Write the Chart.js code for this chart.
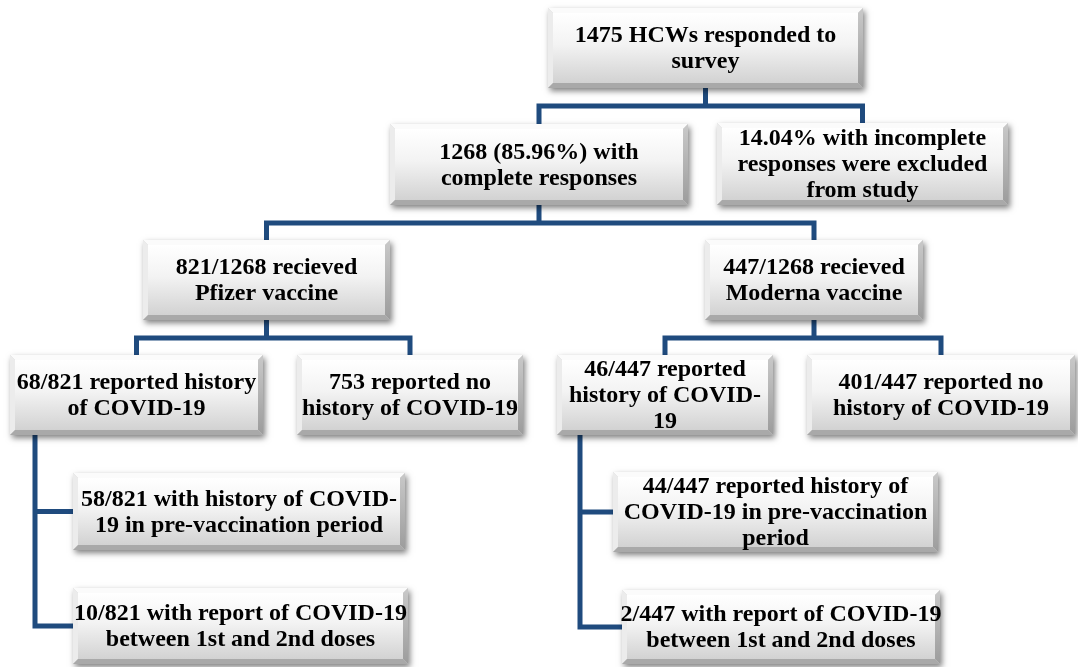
<!DOCTYPE html>
<html>
<head>
<meta charset="utf-8">
<title>HCW vaccination flow</title>
<script src="https://cdn.jsdelivr.net/npm/chart.js@4.4.1/dist/chart.umd.min.js"></script>
<style>
  html, body { margin: 0; padding: 0; background: #fff; }
  #wrap { width: 1078px; height: 667px; }
</style>
</head>
<body>
<div id="wrap"><canvas id="flow" width="1078" height="667"></canvas></div>
<script>
// box labels (the content of the flow chart)
const boxText = [
  ['1475 HCWs responded to', 'survey'],
  ['1268 (85.96%) with', 'complete responses'],
  ['14.04% with incomplete', 'responses were excluded', 'from study'],
  ['821/1268 recieved', 'Pfizer vaccine'],
  ['447/1268 recieved', 'Moderna vaccine'],
  ['68/821 reported history', 'of COVID-19'],
  ['753 reported no', 'history of COVID-19'],
  ['46/447 reported', 'history of COVID-', '19'],
  ['401/447 reported no', 'history of COVID-19'],
  ['58/821 with history of COVID-', '19 in pre-vaccination period'],
  ['10/821 with report of COVID-19', 'between 1st and 2nd doses'],
  ['44/447 reported history of', 'COVID-19 in pre-vaccination', 'period'],
  ['2/447 with report of COVID-19', 'between 1st and 2nd doses']
];

// layout of the boxes, in chart units (same as pixels here)
const boxLeft   = [548, 390, 717, 143, 705,  10, 297, 557, 807,  73,  73, 613, 622];
const boxTop    = [  8, 124, 123, 240, 240, 355, 355, 355, 355, 473, 588, 472, 590];
const boxRight  = [863, 688,1008, 390, 923, 263, 523, 773,1075, 405, 408, 938, 940];
const boxBottom = [ 88, 205, 205, 320, 320, 435, 435, 435, 435, 550, 664, 552, 664];

// tree links: parent -> children through a horizontal bus
const forkParent   = [0, 1, 3, 4];
const forkChildren = [[1, 2], [3, 4], [5, 6], [7, 8]];
const forkBusY     = [106, 223, 338, 338];

// side links: parent -> children through a vertical spine on the left
const sideParent   = [5, 7];
const sideSpineX   = [35, 580];
const sideChildren = [[9, 10], [11, 12]];

const lineColor = '#1f4b7e';

function cx(i) { return (boxLeft[i] + boxRight[i]) / 2; }
function cy(i) { return (boxTop[i] + boxBottom[i]) / 2; }

const datasets = [];
forkParent.forEach((p, k) => {
  const kids = forkChildren[k];
  const y = forkBusY[k];
  const first = kids[0], last = kids[kids.length - 1];
  const pts = [
    { x: cx(first), y: boxTop[first] },
    { x: cx(first), y: y },
    { x: cx(last), y: y },
    { x: cx(last), y: boxTop[last] },
    { x: cx(p), y: null },
    { x: cx(p), y: boxBottom[p] },
    { x: cx(p), y: y }
  ];
  datasets.push({ data: pts });
});
sideParent.forEach((p, k) => {
  const kids = sideChildren[k];
  const sx = sideSpineX[k];
  const last = kids[kids.length - 1];
  const pts = [{ x: sx, y: boxBottom[p] }, { x: sx, y: cy(last) }, { x: boxLeft[last], y: cy(last) }];
  kids.slice(0, -1).forEach(c => {
    pts.push({ x: boxLeft[last], y: null });
    pts.push({ x: sx, y: cy(c) });
    pts.push({ x: boxLeft[c], y: cy(c) });
  });
  datasets.push({ data: pts });
});
datasets.forEach(d => Object.assign(d, {
  showLine: true, spanGaps: false, fill: false,
  borderColor: lineColor, borderWidth: 5, pointRadius: 0,
  borderJoinStyle: 'miter', borderCapStyle: 'square', tension: 0
}));

// draws the bevelled grey boxes on top of the connectors
const boxPlugin = {
  id: 'boxes',
  afterDatasetsDraw(chart) {
    const ctx = chart.ctx;
    const xs = chart.scales.x, ys = chart.scales.y;
    boxText.forEach((lines, i) => {
      const x0 = xs.getPixelForValue(boxLeft[i]);
      const x1 = xs.getPixelForValue(boxRight[i]);
      const y0 = ys.getPixelForValue(boxTop[i]);
      const y1 = ys.getPixelForValue(boxBottom[i]);
      const w = x1 - x0, h = y1 - y0, b = 5;

      // shadow + base
      ctx.save();
      ctx.shadowColor = 'rgba(0,0,0,0.5)';
      ctx.shadowBlur = 6;
      ctx.shadowOffsetX = 2;
      ctx.shadowOffsetY = 3;
      ctx.fillStyle = '#d0d0d0';
      ctx.fillRect(x0, y0, w, h);
      ctx.restore();

      // bevel edges
      const edge = (pts, fill) => {
        ctx.beginPath();
        ctx.moveTo(pts[0][0], pts[0][1]);
        for (let k = 1; k < pts.length; k++) ctx.lineTo(pts[k][0], pts[k][1]);
        ctx.closePath();
        ctx.fillStyle = fill;
        ctx.fill();
      };
      edge([[x0, y0], [x1, y0], [x1 - b, y0 + b], [x0 + b, y0 + b]], '#fbfbfb');
      edge([[x0, y0], [x0 + b, y0 + b], [x0 + b, y1 - b], [x0, y1]], '#ececec');
      const gr = ctx.createLinearGradient(0, y0, 0, y1);
      gr.addColorStop(0, '#c9c9c9');
      gr.addColorStop(1, '#9c9c9c');
      edge([[x1, y0], [x1, y1], [x1 - b, y1 - b], [x1 - b, y0 + b]], gr);
      edge([[x0, y1], [x0 + b, y1 - b], [x1 - b, y1 - b], [x1, y1]], '#a9a9a9');

      // face
      const g = ctx.createLinearGradient(0, y0 + b, 0, y1 - b);
      g.addColorStop(0, '#ffffff');
      g.addColorStop(0.45, '#f3f3f3');
      g.addColorStop(1, '#d2d2d2');
      ctx.fillStyle = g;
      ctx.fillRect(x0 + b, y0 + b, w - 2 * b, h - 2 * b);

      // text
      ctx.fillStyle = '#000';
      ctx.font = 'bold 24px "Liberation Serif", "Times New Roman", serif';
      ctx.textAlign = 'center';
      ctx.textBaseline = 'middle';
      const lh = 26;
      const mid = (y0 + y1) / 2 + 1;
      lines.forEach((t, k) => {
        ctx.fillText(t, (x0 + x1) / 2, mid + (k - (lines.length - 1) / 2) * lh);
      });
    });
  }
};

new Chart(document.getElementById('flow'), {
  type: 'scatter',
  data: { datasets: datasets },
  options: {
    responsive: false,
    animation: false,
    devicePixelRatio: 1,
    layout: { padding: 0 },
    plugins: { legend: { display: false }, tooltip: { enabled: false } },
    scales: {
      x: { type: 'linear', min: 0, max: 1078, display: false },
      y: { type: 'linear', min: 0, max: 667, reverse: true, display: false }
    }
  },
  plugins: [boxPlugin]
});
</script>
</body>
</html>
